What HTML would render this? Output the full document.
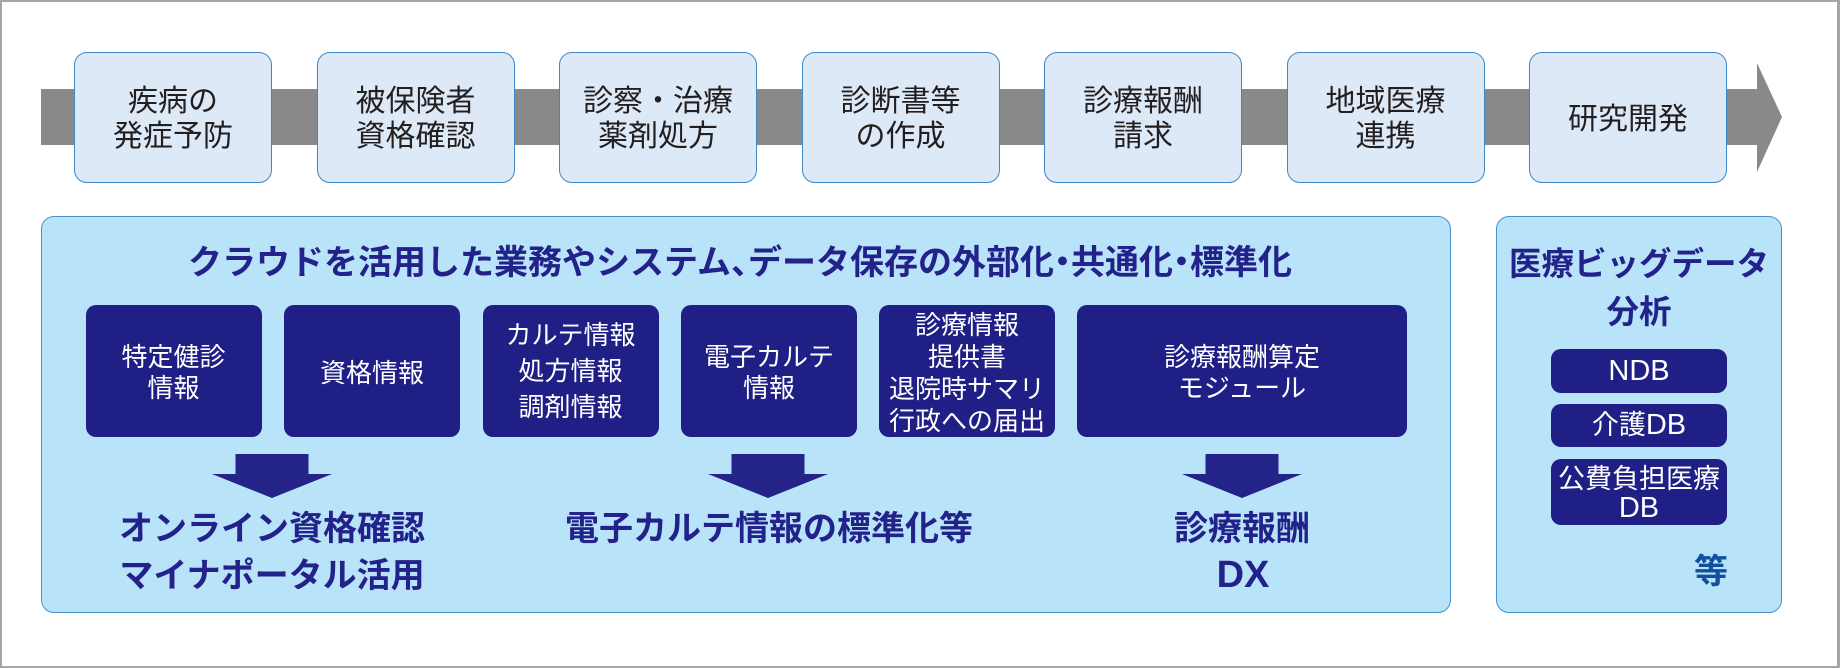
<!DOCTYPE html>
<html><head><meta charset="utf-8"><style>
*{margin:0;padding:0;box-sizing:border-box}
html,body{width:1840px;height:668px;overflow:hidden;background:#fff}
body{position:relative;font-family:"Liberation Sans","Noto Sans CJK JP",sans-serif}
.frame{position:absolute;left:0;top:0;width:1840px;height:668px;border:2px solid #a6a6a6;border-right-width:3px;z-index:10}
.bar{position:absolute;left:41px;top:89px;width:1717px;height:56px;background:#898989}
.tb{position:absolute;top:52px;width:198px;height:131px;background:#dde9f6;border:1.5px solid #3f88c8;border-radius:13px;display:flex;align-items:center;justify-content:center;text-align:center;font-size:30px;line-height:35px;color:#231f20;white-space:nowrap;padding-top:3px}
.panel{position:absolute;top:216px;height:397px;background:#b9e3f8;border:1.5px solid #4a90d0;border-radius:13px}
.title{position:absolute;text-align:center;font-weight:700;color:#22228a;white-space:nowrap}
.p{display:inline-block;width:0.5em;text-align:center;overflow:visible}
.db{position:absolute;top:305px;height:132px;width:176px;background:#1f1f85;border-radius:10px;color:#fff;display:flex;align-items:center;justify-content:center;text-align:center;font-size:26px;line-height:31px;white-space:nowrap;padding-top:4px}
.sb{position:absolute;left:1551px;width:176px;background:#1f1f85;border-radius:10px;color:#fff;display:flex;align-items:center;justify-content:center;text-align:center;font-size:27px;white-space:nowrap}
.lab{position:absolute;width:500px;text-align:center;font-weight:700;color:#22228a;font-size:34px;line-height:47px;white-space:nowrap}
svg{position:absolute;left:0;top:0}
</style></head><body>
<div class="frame"></div>

<div class="bar"></div>
<svg width="1840" height="668" style="z-index:1">
<polygon points="1757,63 1782,117 1757,172" fill="#898989"/>
</svg>

<div class="tb" style="left:74px">疾病の<br>発症予防</div>
<div class="tb" style="left:316.5px">被保険者<br>資格確認</div>
<div class="tb" style="left:559px">診察・治療<br>薬剤処方</div>
<div class="tb" style="left:801.5px">診断書等<br>の作成</div>
<div class="tb" style="left:1044px">診療報酬<br>請求</div>
<div class="tb" style="left:1286.5px">地域医療<br>連携</div>
<div class="tb" style="left:1529px">研究開発</div>

<div class="panel" style="left:41px;width:1410px"></div>
<div class="panel" style="left:1496px;width:286px"></div>

<div class="title" style="left:35px;width:1410px;top:243px;font-size:34px;line-height:40px">クラウドを活用した業務やシステム<span class="p" style="text-align:left">、</span>データ保存の外部化<span class="p"><span style="display:inline-block;margin-left:-0.25em">・</span></span>共通化<span class="p"><span style="display:inline-block;margin-left:-0.25em">・</span></span>標準化</div>

<div class="db" style="left:85.5px">特定健診<br>情報</div>
<div class="db" style="left:284px">資格情報</div>
<div class="db" style="left:482.5px;line-height:36px;padding-top:0">カルテ情報<br>処方情報<br>調剤情報</div>
<div class="db" style="left:681px">電子カルテ<br>情報</div>
<div class="db" style="left:879px;line-height:32px;padding-top:4px">診療情報<br>提供書<br>退院時サマリ<br>行政への届出</div>
<div class="db" style="left:1077px;width:330px">診療報酬算定<br>モジュール</div>

<svg width="1840" height="668" style="z-index:2">
<polygon points="235.5,454 308.5,454 308.5,474 332,474 272,498 212,474 235.5,474" fill="#232388"/>
<polygon points="731.5,454 804.5,454 804.5,474 828,474 768,498 708,474 731.5,474" fill="#232388"/>
<polygon points="1205.5,454 1278.5,454 1278.5,474 1302,474 1242,498 1182,474 1205.5,474" fill="#232388"/>
</svg>

<div class="lab" style="left:22px;top:505.5px">オンライン資格確認<br>マイナポータル活用</div>
<div class="lab" style="left:519px;top:505.5px">電子カルテ情報の標準化等</div>
<div class="lab" style="left:992px;top:505.5px">診療報酬</div>
<div class="lab" style="left:993px;top:556px;font-family:'Liberation Sans',sans-serif;font-size:38px;line-height:38px">DX</div>

<div class="title" style="left:1496px;width:286px;top:240px;font-size:32.5px;line-height:48px">医療ビッグデータ<br>分析</div>

<div class="sb" style="top:349px;height:44px;font-size:29px;line-height:44px"><div>NDB</div></div>
<div class="sb" style="top:404px;height:43px;line-height:43px"><div>介護<span style="font-size:29px">DB</span></div></div>
<div class="sb" style="top:459px;height:66px;line-height:29px;padding-top:4px"><div>公費負担医療<br><span style="font-size:29px">DB</span></div></div>

<div class="title" style="left:1661px;width:100px;top:552px;font-size:34px;line-height:40px;color:#1150a0">等</div>
</body></html>
